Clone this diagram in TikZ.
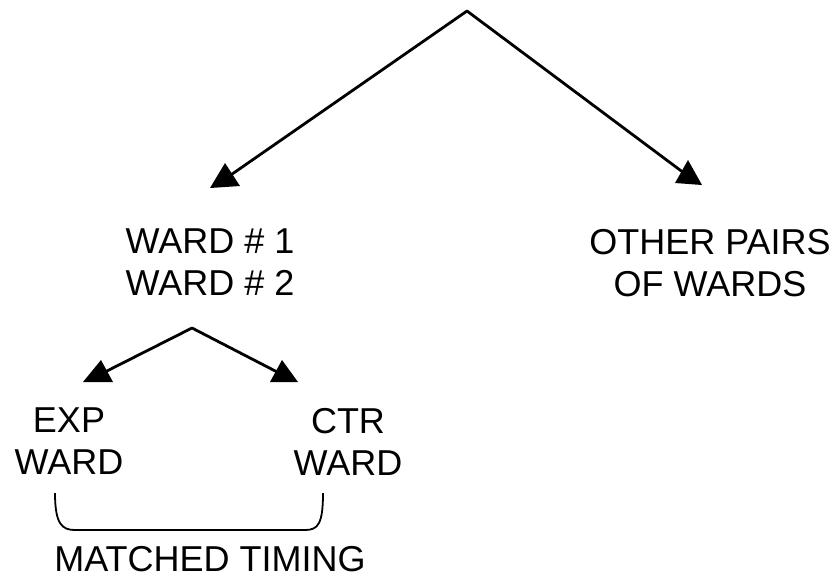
\documentclass[tikz,border=0pt]{standalone}
\usepackage{fontspec}
\setmainfont{Liberation Sans}
\begin{document}
\begin{tikzpicture}[x=1pt,y=-1pt,
  lbl/.style={anchor=north,inner sep=0pt,align=center,font=\fontsize{36}{42}\selectfont},
  conn/.style={line width=2.8pt,line cap=round,line join=round},
  head/.style={fill=black},
  brace/.style={line width=1.8pt}]
\useasboundingbox (0,0) rectangle (835,579);
% text nodes
\node[lbl] (w12) at (210,229) {WARD \# 1\\WARD \# 2};
\node[lbl] (other) at (710,229) {OTHER PAIRS\\OF WARDS};
\node[lbl] (exp) at (69,408) {EXP\\WARD};
\node[lbl] (ctr) at (348,408) {CTR\\WARD};
\node[lbl] (mt) at (210,546) {MATCHED TIMING};
% apex points and arrow-head centres
\coordinate (top) at (467,11);
\coordinate (hL) at (225,179);
\coordinate (hR) at (688,176);
\coordinate (sub) at (192,328);
\coordinate (hE) at (99,375);
\coordinate (hC) at (283,375);
% connectors
\draw[conn] (hL) -- (top) -- (hR);
\draw[conn] (hE) -- (sub) -- (hC);
% arrow heads
\fill[head] (hL) ++(-15,9) -- ++(15,-25) -- ++(15,23) -- cycle;
\fill[head] (hR) ++(14,9) -- ++(-14,-25) -- ++(-13,23) -- cycle;
\fill[head] (hE) ++(-16,7) -- ++(18,-22) -- ++(12,22) -- cycle;
\fill[head] (hC) ++(-13,7) -- ++(12,-22) -- ++(16,22) -- cycle;
% bracket
\draw[brace] (55,493) .. controls (55,524) and (62,530) .. (75,530) -- (305,530)
  .. controls (318,530) and (323,524) .. (323,493);
\end{tikzpicture}
\end{document}
